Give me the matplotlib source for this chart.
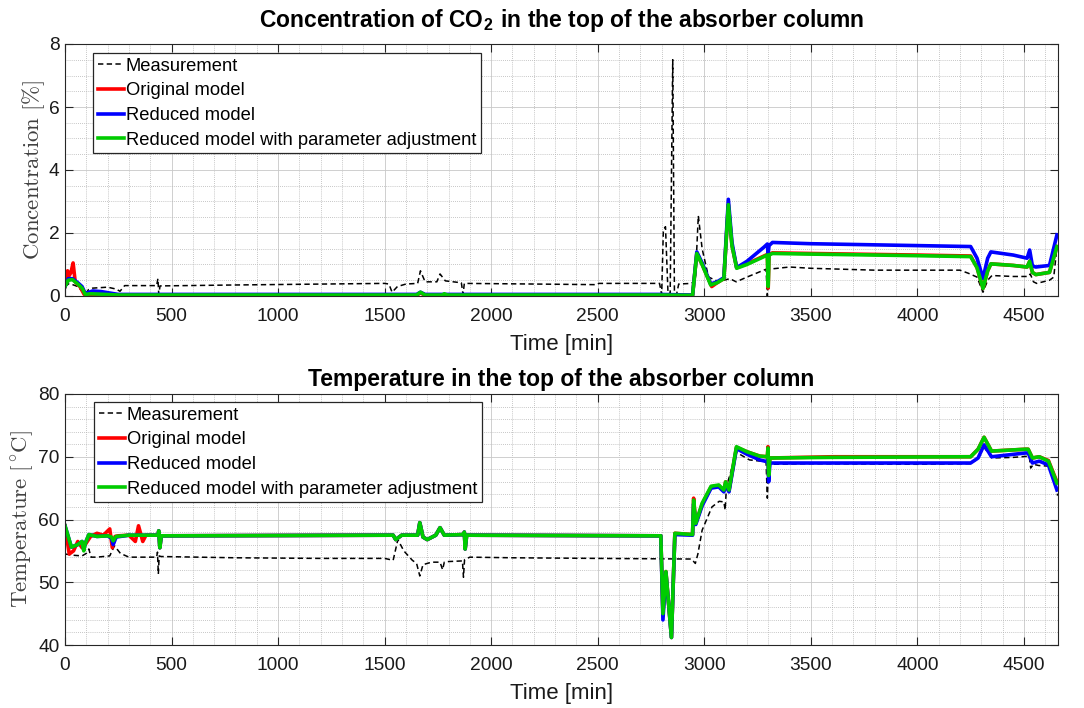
import matplotlib
matplotlib.use("Agg")
import matplotlib.pyplot as plt
from matplotlib.ticker import MultipleLocator

plt.rcParams["font.family"] = ["Liberation Sans", "DejaVu Sans"]
plt.rcParams["mathtext.fontset"] = "cm"

# ---- CO2 concentration in the top of the absorber [%] ----
co2_meas_t = [0, 20, 60, 95, 110, 130, 200, 240, 258, 280, 430, 436, 440, 446, 800,
              1500, 1520, 1535, 1560, 1600, 1655, 1668, 1690, 1745, 1760, 1785, 1860,
              1868, 1874, 2200, 2495, 2505, 2790, 2800, 2808, 2818, 2830, 2840, 2852,
              2860, 2870, 2880, 2940, 2958, 2972, 2990, 3020, 3070, 3092, 3120, 3150,
              3200, 3290, 3296, 3302, 3400, 3500, 3800, 4200, 4240, 4280, 4308, 4330,
              4350, 4450, 4520, 4530, 4545, 4560, 4620, 4640, 4655]
co2_meas = [0.3, 0.4, 0.3, 0.05, 0.2, 0.25, 0.28, 0.22, 0.15, 0.33, 0.33, 0.55, 0.05, 0.32, 0.35,
            0.4, 0.38, 0.12, 0.3, 0.38, 0.4, 0.8, 0.45, 0.45, 0.7, 0.48, 0.42,
            0.05, 0.4, 0.38, 0.36, 0.4, 0.4, 0.05, 2.1, 2.2, 0.05, 0.1, 7.5,
            0.05, 0.05, 0.38, 0.4, 0.5, 2.55, 1.5, 0.6, 0.45, 0.5, 0.55, 0.45,
            0.6, 0.85, 0.0, 0.85, 0.92, 0.88, 0.82, 0.82, 0.72, 0.6, 0.12, 0.5,
            0.65, 0.62, 0.62, 0.7, 0.45, 0.4, 0.5, 0.6, 1.55]

co2_orig_t = [0, 12, 20, 28, 38, 48, 70, 90, 110, 250, 1650, 1668, 1690, 2790, 2945,
              2965, 2990, 3035, 3060, 3092, 3113, 3130, 3152, 3200, 3296, 3300, 3304,
              3320, 3500, 4000, 4250, 4280, 4308, 4330, 4345, 4450, 4515, 4527, 4540,
              4556, 4620, 4655]
co2_orig = [0.3, 0.8, 0.65, 0.75, 1.05, 0.45, 0.3, 0.05, 0.0, 0.02, 0.02, 0.1, 0.02, 0.02, 0.02,
            1.35, 1.0, 0.3, 0.42, 0.55, 2.9, 1.6, 0.9, 1.02, 1.32, 0.25, 1.32,
            1.37, 1.35, 1.3, 1.27, 0.9, 0.24, 0.8, 1.02, 0.97, 0.92, 1.1, 0.75,
            0.68, 0.75, 1.57]

co2_red_t = [0, 15, 35, 60, 80, 95, 130, 170, 250, 1650, 1668, 1690, 2790, 2945, 2965,
             2990, 3030, 3060, 3092, 3113, 3130, 3152, 3200, 3280, 3296, 3300, 3304,
             3320, 3500, 4000, 4250, 4280, 4308, 4330, 4345, 4450, 4515, 4527, 4540,
             4556, 4620, 4655]
co2_red = [0.3, 0.55, 0.55, 0.42, 0.3, 0.08, 0.16, 0.14, 0.05, 0.05, 0.12, 0.05, 0.05, 0.03, 1.4,
           1.05, 0.38, 0.45, 0.58, 3.07, 1.7, 0.9, 1.1, 1.55, 1.65, 1.35, 1.6,
           1.7, 1.66, 1.6, 1.57, 1.2, 0.56, 1.2, 1.4, 1.3, 1.2, 1.46, 0.95,
           0.92, 0.97, 1.94]

co2_adj_t = [0, 15, 35, 60, 80, 95, 120, 160, 250, 1650, 1668, 1690, 1770, 1780, 1795,
             2790, 2945, 2965, 2990, 3030, 3060, 3092, 3113, 3130, 3152, 3200, 3296,
             3300, 3304, 3320, 3500, 4000, 4250, 4280, 4308, 4330, 4345, 4450, 4515,
             4527, 4540, 4556, 4620, 4655]
co2_adj = [0.3, 0.5, 0.52, 0.38, 0.25, 0.05, 0.07, 0.06, 0.03, 0.03, 0.12, 0.03, 0.03, 0.07, 0.03,
           0.03, 0.02, 1.35, 1.0, 0.35, 0.42, 0.55, 2.9, 1.6, 0.88, 1.0, 1.3,
           0.3, 1.3, 1.35, 1.33, 1.28, 1.25, 0.9, 0.24, 0.8, 1.02, 0.97, 0.92,
           1.1, 0.75, 0.68, 0.75, 1.57]

# ---- Temperature in the top of the absorber [degC] ----
tmp_meas_t = [0, 40, 80, 100, 112, 122, 150, 210, 232, 260, 300, 430, 434, 438, 442, 450,
              800, 1200, 1500, 1540, 1562, 1590, 1630, 1650, 1665, 1680, 1720, 1760,
              1772, 1780, 1800, 1865, 1870, 1875, 1900, 2100, 2500, 2940, 2958, 2970,
              2990, 3036, 3070, 3092, 3098, 3104, 3115, 3151, 3212, 3290, 3296, 3302,
              3320, 3500, 4000, 4250, 4280, 4313, 4350, 4450, 4525, 4532, 4545, 4570,
              4620, 4640, 4658]
tmp_meas = [54.5, 54.3, 54.2, 54.6, 55.3, 54.0, 54.0, 54.2, 55.8, 54.6, 54.0, 54.0, 54.8, 51.3, 54.2, 54.1,
            53.9, 53.8, 53.8, 53.5, 56.8, 55.0, 53.5, 53.0, 51.0, 52.8, 53.2, 53.2,
            52.0, 53.2, 53.3, 53.4, 50.8, 53.6, 54.0, 53.9, 53.8, 53.7, 53.0, 54.5,
            58.3, 62.0, 62.9, 62.8, 61.5, 65.2, 66.5, 70.7, 69.5, 69.2, 63.4, 69.0,
            68.8, 68.9, 68.8, 68.9, 69.6, 71.5, 69.8, 69.9, 70.1, 68.2, 68.8, 68.6,
            68.5, 67.5, 63.8]

tmp_orig_t = [0, 20, 40, 60, 80, 95, 120, 150, 180, 210, 222, 235, 250, 300, 330, 345,
              365, 380, 436, 440, 445, 452, 1540, 1552, 1580, 1655, 1665, 1680, 1700,
              1740, 1760, 1780, 1870, 1874, 1878, 1885, 2796, 2806, 2820, 2846, 2862,
              2945, 2950, 2960, 2990, 3032, 3068, 3092, 3100, 3116, 3151, 3200, 3260,
              3296, 3299, 3302, 3308, 3600, 4250, 4285, 4313, 4348, 4508, 4520, 4540,
              4572, 4615, 4655]
tmp_orig = [59.0, 54.5, 55.0, 56.5, 55.5, 56.0, 57.3, 57.8, 57.5, 58.5, 55.5, 57.3, 57.4, 57.5, 56.5, 59.0,
            56.5, 57.5, 57.5, 58.2, 55.5, 57.4, 57.5, 56.8, 57.5, 57.5, 59.5, 57.2, 56.8,
            57.5, 58.7, 57.5, 57.6, 58.0, 55.3, 57.5, 57.4, 45.0, 51.7, 41.2, 57.8,
            57.6, 63.4, 59.4, 62.4, 65.2, 65.4, 64.6, 66.0, 64.6, 71.5, 70.8, 70.1,
            70.0, 71.6, 67.0, 69.8, 70.0, 70.0, 71.2, 73.1, 70.9, 71.2, 71.2, 69.8,
            70.0, 69.4, 66.0]

tmp_red_t = [0, 30, 60, 80, 88, 95, 112, 150, 200, 218, 226, 240, 300, 436, 440, 445,
             452, 1540, 1552, 1580, 1655, 1665, 1680, 1700, 1740, 1760, 1780, 1870,
             1874, 1878, 1885, 2796, 2806, 2820, 2846, 2862, 2945, 2950, 2960, 2990,
             3032, 3068, 3092, 3100, 3116, 3151, 3200, 3260, 3296, 3299, 3302, 3308,
             3600, 4250, 4285, 4313, 4348, 4508, 4520, 4540, 4572, 4615, 4655]
tmp_red = [59.0, 55.6, 56.0, 56.5, 55.2, 56.2, 57.6, 57.3, 57.4, 57.0, 56.0, 57.2, 57.5, 57.5, 58.2, 55.5,
           57.4, 57.5, 56.8, 57.5, 57.5, 59.5, 57.2, 56.8, 57.5, 58.7, 57.5, 57.6,
           58.0, 55.3, 57.5, 57.4, 44.0, 51.5, 41.2, 57.6, 57.5, 62.5, 59.2, 62.2,
           65.0, 65.2, 64.4, 65.5, 64.4, 71.3, 70.4, 69.5, 69.2, 70.5, 66.0, 69.0,
           69.0, 69.0, 69.8, 71.9, 70.0, 70.6, 70.6, 69.0, 69.3, 68.7, 64.7]

tmp_adj_t = tmp_red_t
tmp_adj = [59.0, 55.6, 56.0, 56.5, 55.0, 56.2, 57.6, 57.3, 57.4, 57.2, 56.6, 57.3, 57.5, 57.5, 58.2, 55.5,
           57.4, 57.5, 56.8, 57.5, 57.5, 59.5, 57.2, 56.8, 57.5, 58.7, 57.5, 57.6,
           58.0, 55.3, 57.5, 57.4, 45.0, 51.7, 41.2, 57.8, 57.6, 63.1, 59.4, 62.6,
           65.3, 65.5, 64.7, 66.0, 64.7, 71.6, 70.8, 70.1, 70.0, 71.4, 67.0, 69.8,
           69.9, 70.0, 71.2, 73.1, 70.9, 71.2, 71.2, 69.8, 70.0, 69.3, 65.8]

LABELS = ["Measurement", "Original model", "Reduced model",
          "Reduced model with parameter adjustment"]
GRAY = "#262626"


def style_axes(ax, ymax_major, ymin_minor):
    ax.set_xlim(0, 4660)
    ax.xaxis.set_major_locator(MultipleLocator(500))
    ax.xaxis.set_minor_locator(MultipleLocator(100))
    ax.yaxis.set_major_locator(MultipleLocator(ymax_major))
    ax.yaxis.set_minor_locator(MultipleLocator(ymin_minor))
    ax.grid(True, which="major", color="#c8c8c8", linestyle="-", linewidth=0.6)
    ax.grid(True, which="minor", color="#b4b4b4", linestyle=(0, (1, 1.5)), linewidth=0.6)
    ax.set_axisbelow(True)
    ax.tick_params(which="major", direction="in", top=True, right=True, length=6,
                   width=0.8, labelsize=13.8, colors=GRAY, labelcolor="#1a1a1a")
    ax.tick_params(axis="x", which="major", pad=9)
    ax.tick_params(axis="y", which="major", pad=4)
    ax.tick_params(which="minor", length=0)
    for sp in ax.spines.values():
        sp.set_color(GRAY)
        sp.set_linewidth(0.8)
    ax.set_xlabel("Time [min]", fontsize=16, color="#1a1a1a", labelpad=6)


def draw(ax, series, anchor):
    (mt, m), (ot, o), (rt, r), (at, a) = series
    ax.plot(mt, m, color="black", linestyle=(0, (3.5, 2.2)), linewidth=1.1, label=LABELS[0])
    ax.plot(ot, o, color="#ff0000", linewidth=2.6, label=LABELS[1])
    ax.plot(rt, r, color="#0000ff", linewidth=2.6, label=LABELS[2])
    ax.plot(at, a, color="#00cc00", linewidth=2.6, label=LABELS[3])
    leg = ax.legend(loc="upper left", bbox_to_anchor=anchor, fontsize=13.2,
                    handlelength=1.45, handletextpad=0.1, labelspacing=0.42,
                    borderpad=0.25, borderaxespad=0.0,
                    fancybox=False, framealpha=1, edgecolor=GRAY)
    leg.get_frame().set_linewidth(0.9)


fig = plt.figure(figsize=(10.84, 7.08), dpi=100)
ax1 = fig.add_axes([65 / 1084, 1 - 296 / 708, 993 / 1084, 252 / 708])
ax2 = fig.add_axes([65 / 1084, 1 - 645 / 708, 993 / 1084, 251 / 708])

draw(ax1, [(co2_meas_t, co2_meas), (co2_orig_t, co2_orig),
           (co2_red_t, co2_red), (co2_adj_t, co2_adj)], (28 / 993, 1 - 9 / 252))
style_axes(ax1, 2, 0.5)
ax1.set_ylim(0, 8)
ax1.set_ylabel(r"$\mathrm{Concentration}\ [\%]$", fontsize=16.5, color="#404040", labelpad=1.5)
ax1.set_title(r"Concentration of CO$_{\mathdefault{2}}$ in the top of the absorber column",
              fontsize=16.5, fontweight="bold", pad=12)

draw(ax2, [(tmp_meas_t, tmp_meas), (tmp_orig_t, tmp_orig),
           (tmp_red_t, tmp_red), (tmp_adj_t, tmp_adj)], (29 / 993, 1 - 8 / 251))
style_axes(ax2, 10, 2)
ax2.set_ylim(40, 80)
ax2.set_ylabel(r"$\mathrm{Temperature}\ [^\circ\!\mathrm{C}]$", fontsize=16.5, color="#404040",
               labelpad=1.5)
ax2.set_title("Temperature in the top of the absorber column",
              fontsize=16.5, fontweight="bold", pad=6)

fig.savefig("out.png", dpi=100)
